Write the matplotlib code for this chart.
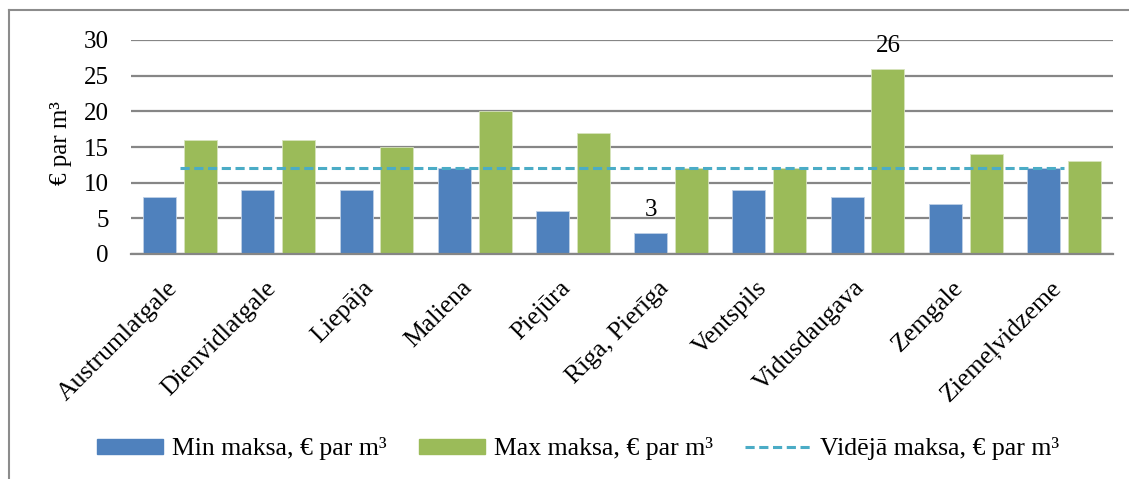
import matplotlib
matplotlib.use("Agg")
import matplotlib.pyplot as plt
from matplotlib.patches import Patch
from matplotlib.lines import Line2D
from matplotlib.transforms import ScaledTranslation
import numpy as np

plt.rcParams['font.family'] = ['Liberation Serif', 'DejaVu Serif']

regions = ["Austrumlatgale", "Dienvidlatgale", "Liepāja", "Maliena", "Piejūra",
           "Rīga, Pierīga", "Ventspils", "Vidusdaugava", "Zemgale", "Ziemeļvidzeme"]
min_price = [8, 9, 9, 12, 6, 3, 9, 8, 7, 12]
max_price = [16, 16, 15, 20, 17, 12, 12, 26, 14, 13]
avg_price = 12
y_ticks = [0, 5, 10, 15, 20, 25, 30]

labels_series = ["Min maksa, € par m³", "Max maksa, € par m³", "Vidējā maksa, € par m³"]
c_min, c_max, c_avg = "#4F81BD", "#9BBB59", "#4BACC6"
grid_c = "#868686"
dash = (0, (3, 1.5))

W, H = 1129, 479
fig = plt.figure(figsize=(W / 100, H / 100), dpi=100)
ax = fig.add_axes([131 / W, 1 - 254 / H, (1113 - 131) / W, (254 - 40) / H])

x = np.arange(len(regions))
bw = 0.336
off = 0.208
ax.bar(x - off, min_price, width=bw, color=c_min, edgecolor="#BFD0E6", linewidth=0.6, zorder=3)
ax.bar(x + off, max_price, width=bw, color=c_max, edgecolor="#D7E4BD", linewidth=0.6, zorder=3)
ax.plot(x, [avg_price] * len(x), color=c_avg, linestyle=dash, linewidth=2.2, zorder=4)

# value labels on the extreme bars
i_lo = int(np.argmin(min_price))
i_hi = int(np.argmax(max_price))
ax.annotate(str(min_price[i_lo]), (x[i_lo] - off, min_price[i_lo]), xytext=(0, 8),
            textcoords="offset points", ha="center", va="bottom", fontsize=18, zorder=5)
ax.annotate(str(max_price[i_hi]), (x[i_hi] + off, max_price[i_hi]), xytext=(0, 8),
            textcoords="offset points", ha="center", va="bottom", fontsize=18, zorder=5,
            annotation_clip=False)

ax.set_xlim(-0.5, len(regions) - 0.5)
ax.set_ylim(0, 30)
ax.set_yticks(y_ticks)
ax.set_yticklabels([str(v) for v in y_ticks], fontsize=18)
ax.yaxis.grid(True, color=grid_c, linewidth=1.6, zorder=0)
ax.set_axisbelow(True)
ax.tick_params(axis="y", length=0, pad=16)
ax.tick_params(axis="x", length=0, pad=22)
ax.set_xticks(x)
ax.set_xticklabels(regions, rotation=45, ha="right", va="center",
                   rotation_mode="anchor", fontsize=18.5)
shift = ScaledTranslation(-0.06, 0, fig.dpi_scale_trans)
for lab in ax.get_xticklabels():
    lab.set_transform(lab.get_transform() + shift)
for s in ["left", "right", "top"]:
    ax.spines[s].set_visible(False)
ax.spines["bottom"].set_color(grid_c)
ax.spines["bottom"].set_linewidth(1.6)
ax.spines["bottom"].set_zorder(5)
ax.set_ylabel("€ par m³", fontsize=18)
ax.yaxis.set_label_coords(-(131 - 72) / (1113 - 131), 0.52)

handles = [Patch(facecolor=c_min, edgecolor=c_min),
           Patch(facecolor=c_max, edgecolor=c_max),
           Line2D([0], [0], color=c_avg, linestyle=dash, linewidth=2.2)]
fig.legend(handles, labels_series, loc="center", bbox_to_anchor=(578 / W, 1 - 449 / H),
           ncol=3, frameon=False, fontsize=18.5, handlelength=2.57, handleheight=0.55,
           handletextpad=0.35, columnspacing=1.25, borderpad=0.2)

# outer chart frame
fig.add_artist(Line2D([9 / W, 1], [1 - 10 / H, 1 - 10 / H], color="#8C8C8C", linewidth=1.5,
                      transform=fig.transFigure))
fig.add_artist(Line2D([9 / W, 9 / W], [0, 1 - 10 / H], color="#8C8C8C", linewidth=1.5,
                      transform=fig.transFigure))

fig.savefig("out.png", dpi=100)
